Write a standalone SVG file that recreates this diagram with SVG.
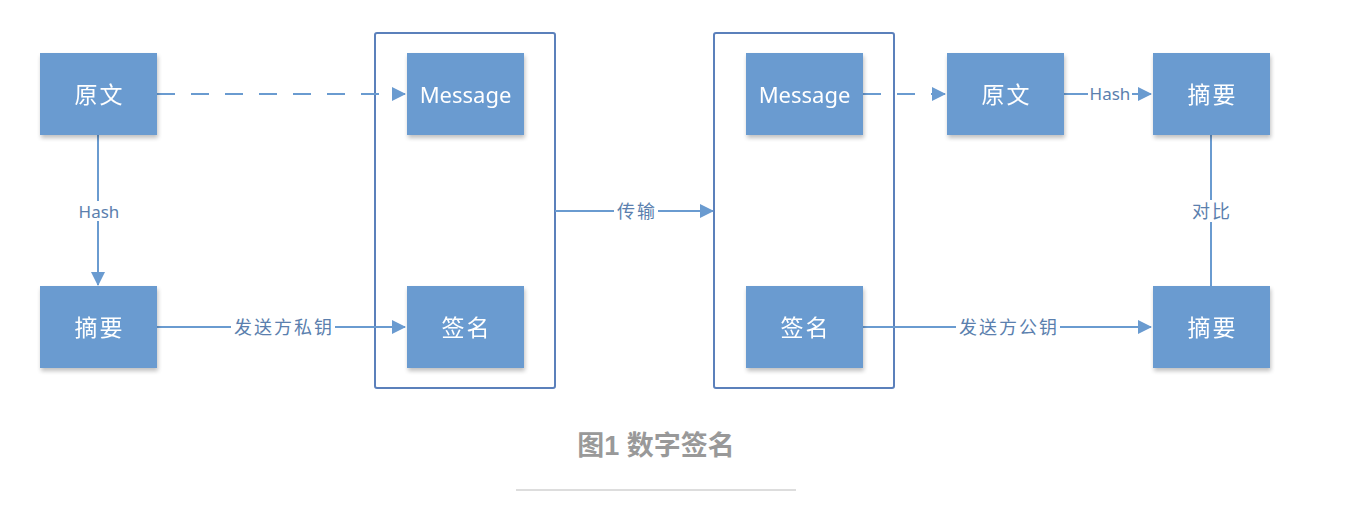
<svg xmlns="http://www.w3.org/2000/svg" width="1360" height="508" viewBox="0 0 1360 508">
<style>
.box{fill:#6a9bd0;}
.bt{fill:#ffffff;font-family:"Noto Sans","Noto Sans CJK SC",sans-serif;font-size:23px;letter-spacing:2px;text-anchor:middle;dominant-baseline:central;}
.bm{fill:#ffffff;font-family:"Noto Sans","Noto Sans CJK SC",sans-serif;font-size:22px;text-anchor:middle;dominant-baseline:central;}
.cont{fill:none;stroke:#5b80bb;stroke-width:2;}
.ln{fill:none;stroke:#6a9bd0;stroke-width:2;}
.dash{stroke-dasharray:18 16;}
.lbl{fill:#5b7fae;font-family:"Noto Sans","Noto Sans CJK SC",sans-serif;font-size:18px;letter-spacing:2px;text-anchor:middle;dominant-baseline:central;}
.lbe{fill:#5b7fae;font-family:"Noto Sans","Noto Sans CJK SC",sans-serif;font-size:17px;text-anchor:middle;dominant-baseline:central;}
.lbg{fill:#ffffff;}
</style>
<defs>
<marker id="arr" markerWidth="14" markerHeight="14" refX="13" refY="7" orient="auto" markerUnits="userSpaceOnUse">
<path d="M0,0 L14,7 L0,14 Z" fill="#6a9bd0"/>
</marker>
<filter id="sh" x="-10%" y="-10%" width="125%" height="130%">
<feGaussianBlur in="SourceAlpha" stdDeviation="2"/>
<feOffset dx="1" dy="3" result="b"/>
<feComponentTransfer><feFuncA type="linear" slope="0.25"/></feComponentTransfer>
<feMerge><feMergeNode/><feMergeNode in="SourceGraphic"/></feMerge>
</filter>
</defs>
<rect width="1360" height="508" fill="#ffffff"/>
<g id="container1"><rect class="cont" x="375" y="33" width="180" height="355" rx="2"/></g>
<g id="container2"><rect class="cont" x="714" y="33" width="180" height="355" rx="2"/></g>
<g id="connectors">
<line class="ln dash" x1="157" y1="94" x2="405" y2="94" marker-end="url(#arr)"/>
<line class="ln" x1="98" y1="135" x2="98" y2="285" marker-end="url(#arr)"/>
<rect class="lbg" x="77" y="201" width="44" height="20"/>
<text class="lbe" x="99" y="211">Hash</text>
<line class="ln" x1="157" y1="327" x2="405" y2="327" marker-end="url(#arr)"/>
<rect class="lbg" x="231" y="316" width="104" height="22"/>
<text class="lbl" x="284" y="327">发送方私钥</text>
<line class="ln" x1="555" y1="211" x2="713" y2="211" marker-end="url(#arr)"/>
<rect class="lbg" x="614" y="200" width="44" height="22"/>
<text class="lbl" x="637" y="211">传输</text>
<line class="ln dash" x1="863" y1="94" x2="945" y2="94" marker-end="url(#arr)"/>
<line class="ln" x1="1064" y1="94" x2="1151" y2="94" marker-end="url(#arr)"/>
<rect class="lbg" x="1088" y="84" width="44" height="19"/>
<text class="lbe" x="1110" y="93">Hash</text>
<line class="ln" x1="1211" y1="135" x2="1211" y2="286"/>
<rect class="lbg" x="1189" y="200" width="44" height="22"/>
<text class="lbl" x="1212" y="211">对比</text>
<line class="ln" x1="863" y1="327" x2="1151" y2="327" marker-end="url(#arr)"/>
<rect class="lbg" x="956" y="316" width="104" height="22"/>
<text class="lbl" x="1009" y="327">发送方公钥</text>
</g>
<g id="yuanwen1" filter="url(#sh)"><rect class="box" x="40" y="53" width="117" height="82"/><text class="bt" x="99.5" y="94">原文</text></g>
<g id="zhaiyao1" filter="url(#sh)"><rect class="box" x="40" y="286" width="117" height="82"/><text class="bt" x="99.5" y="327">摘要</text></g>
<g id="message1" filter="url(#sh)"><rect class="box" x="407" y="53" width="117" height="82"/><text class="bm" x="465.5" y="94">Message</text></g>
<g id="qianming1" filter="url(#sh)"><rect class="box" x="407" y="286" width="117" height="82"/><text class="bt" x="466.5" y="327">签名</text></g>
<g id="message2" filter="url(#sh)"><rect class="box" x="746" y="53" width="117" height="82"/><text class="bm" x="804.5" y="94">Message</text></g>
<g id="qianming2" filter="url(#sh)"><rect class="box" x="746" y="286" width="117" height="82"/><text class="bt" x="805.5" y="327">签名</text></g>
<g id="yuanwen2" filter="url(#sh)"><rect class="box" x="947" y="53" width="117" height="82"/><text class="bt" x="1006.5" y="94">原文</text></g>
<g id="zhaiyao2" filter="url(#sh)"><rect class="box" x="1153" y="53" width="117" height="82"/><text class="bt" x="1212.5" y="94">摘要</text></g>
<g id="zhaiyao3" filter="url(#sh)"><rect class="box" x="1153" y="286" width="117" height="82"/><text class="bt" x="1212.5" y="327">摘要</text></g>
<g id="caption">
<text x="656" y="446" fill="#999999" font-family="'Liberation Sans','Noto Sans CJK SC',sans-serif" font-size="27" font-weight="bold" text-anchor="middle" dominant-baseline="central">图1 数字签名</text>
<line x1="516" y1="490" x2="796" y2="490" stroke="#dddddd" stroke-width="2"/>
</g>
</svg>
